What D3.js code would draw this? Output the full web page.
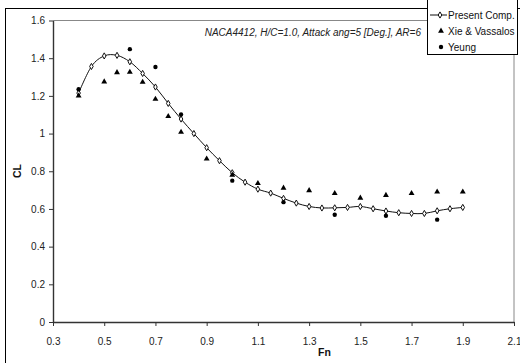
<!DOCTYPE html>
<html>
<head>
<meta charset="utf-8">
<script src="https://cdn.jsdelivr.net/npm/d3@7"></script>
<style>
  html, body { margin: 0; padding: 0; background: #fff; }
  svg { display: block; }
  svg text { font-family: "Liberation Sans", Arial, sans-serif; }
</style>
</head>
<body>
<svg id="chart" width="520" height="363"></svg>
<script>
// ---- data ----
const presentFn = [0.40, 0.45, 0.50, 0.55, 0.60, 0.65, 0.70, 0.75, 0.80, 0.85, 0.90, 0.95, 1.00, 1.05, 1.10, 1.15,
                   1.20, 1.25, 1.30, 1.35, 1.40, 1.45, 1.50, 1.55, 1.60, 1.65, 1.70, 1.75, 1.80, 1.85, 1.90];
const presentCL = [1.215, 1.356, 1.412, 1.415, 1.381, 1.319, 1.247, 1.160, 1.077, 1.000, 0.925, 0.856, 0.792, 0.742, 0.705, 0.684,
                   0.656, 0.631, 0.613, 0.605, 0.606, 0.608, 0.613, 0.601, 0.589, 0.580, 0.576, 0.576, 0.590, 0.601, 0.608];
const xieFn = [0.40, 0.50, 0.55, 0.60, 0.65, 0.70, 0.75, 0.80, 0.90, 1.00, 1.10, 1.20, 1.30, 1.40, 1.50, 1.60, 1.70, 1.80, 1.90];
const xieCL = [1.200, 1.275, 1.324, 1.326, 1.273, 1.183, 1.091, 1.008, 0.866, 0.780, 0.736, 0.711, 0.698, 0.683, 0.658, 0.673, 0.683, 0.691, 0.691];
const yeungFn = [0.40, 0.60, 0.70, 0.80, 1.00, 1.20, 1.40, 1.60, 1.80];
const yeungCL = [1.235, 1.448, 1.353, 1.101, 0.750, 0.636, 0.569, 0.564, 0.543];
const xTicks = [0.3, 0.5, 0.7, 0.9, 1.1, 1.3, 1.5, 1.7, 1.9, 2.1];
const yTicks = [0, 0.2, 0.4, 0.6, 0.8, 1.0, 1.2, 1.4, 1.6];
const seriesNames = ["Present Comp.", "Xie & Vassalos", "Yeung"];
const annotation = "NACA4412, H/C=1.0, Attack ang=5 [Deg.], AR=6";

// ---- layout ----
const FONT = "'Liberation Sans', Arial, sans-serif";
const svg = d3.select("#chart");
const L = 53, R = 514, T = 20.5, B = 322;
const x = d3.scaleLinear().domain([0.3, 2.1]).range([L, R]);
const y = d3.scaleLinear().domain([0, 1.6]).range([B, T]);

// outer chart frame
svg.append("rect").attr("x", 5.5).attr("y", 8.5).attr("width", 530).attr("height", 370)
  .attr("fill", "#fff").attr("stroke", "#000").attr("stroke-width", 1);

// plot area border (top/right gray)
svg.append("path")
  .attr("d", `M${L},${T}H${R}V${B}`)
  .attr("fill", "none").attr("stroke", "#888").attr("stroke-width", 1);

// axes
const xAxis = svg.append("g").attr("transform", `translate(0,${B})`)
  .call(d3.axisBottom(x).tickValues(xTicks).tickFormat(d3.format(".1f")).tickSizeInner(4).tickSizeOuter(0).tickPadding(12));
const yAxis = svg.append("g").attr("transform", `translate(${L},0)`)
  .call(d3.axisLeft(y).tickValues(yTicks).tickFormat(d => d === 0 ? "0" : (d === 1 ? "1" : d3.format(".1f")(d))).tickSizeInner(4).tickSizeOuter(0).tickPadding(4));
[xAxis, yAxis].forEach(g => {
  g.attr("font-family", FONT);
  g.select(".domain").attr("stroke", "#333").attr("stroke-width", 1.4);
  g.selectAll(".tick line").attr("stroke", "#333").attr("stroke-width", 1);
  g.selectAll(".tick text").attr("fill", "#222").attr("font-size", 10).attr("font-family", FONT);
});

// axis titles
svg.append("text").attr("x", 324.5).attr("y", 356).attr("text-anchor", "middle").attr("font-family", FONT)
  .attr("font-size", 10.5).attr("font-weight", "bold").attr("fill", "#111").text("Fn");
svg.append("text").attr("transform", "translate(21,171) rotate(-90)").attr("text-anchor", "middle").attr("font-family", FONT)
  .attr("font-size", 10.5).attr("font-weight", "bold").attr("fill", "#111").text("CL");

// annotation
svg.append("text").attr("x", 421).attr("y", 36).attr("text-anchor", "end").attr("font-family", FONT)
  .attr("font-size", 10).attr("font-style", "italic").attr("fill", "#222").text(annotation);

// present comp. line
const present = presentFn.map((f, i) => ({ f, c: presentCL[i] }));
const line = d3.line().x(d => x(d.f)).y(d => y(d.c)).curve(d3.curveCardinal.tension(0));
svg.append("path").datum(present).attr("d", line)
  .attr("fill", "none").attr("stroke", "#111").attr("stroke-width", 1);

const diamond = d3.symbol().type(d3.symbolDiamond).size(11);
const tri = d3.symbol().type(d3.symbolTriangle).size(15);
const circ = d3.symbol().type(d3.symbolCircle).size(15);

svg.append("g").selectAll("path").data(present).join("path")
  .attr("transform", d => `translate(${x(d.f)},${y(d.c)})`)
  .attr("d", diamond).attr("fill", "#fff").attr("stroke", "#111").attr("stroke-width", 1);

svg.append("g").selectAll("path").data(xieFn.map((f, i) => ({ f, c: xieCL[i] }))).join("path")
  .attr("transform", d => `translate(${x(d.f)},${y(d.c)})`)
  .attr("d", tri).attr("fill", "#000");

svg.append("g").selectAll("path").data(yeungFn.map((f, i) => ({ f, c: yeungCL[i] }))).join("path")
  .attr("transform", d => `translate(${x(d.f)},${y(d.c)})`)
  .attr("d", circ).attr("fill", "#000");

// legend
const lg = svg.append("g");
lg.append("rect").attr("x", 427.5).attr("y", -1).attr("width", 90).attr("height", 55.5)
  .attr("fill", "#fff").attr("stroke", "#000").attr("stroke-width", 1);
const rowsY = [15, 31, 47];
lg.append("line").attr("x1", 430).attr("x2", 447).attr("y1", rowsY[0]).attr("y2", rowsY[0])
  .attr("stroke", "#111").attr("stroke-width", 1);
lg.append("path").attr("transform", `translate(440,${rowsY[0]})`).attr("d", diamond)
  .attr("fill", "#fff").attr("stroke", "#111");
lg.append("path").attr("transform", `translate(441,${rowsY[1]})`).attr("d", tri).attr("fill", "#000");
lg.append("path").attr("transform", `translate(441,${rowsY[2]})`).attr("d", circ).attr("fill", "#000");
lg.selectAll("text.lt").data(seriesNames).join("text").attr("class", "lt").attr("font-family", FONT)
  .attr("x", 448).attr("y", (d, i) => rowsY[i] + 4).attr("font-size", 10).attr("fill", "#111").text(d => d);
</script>
</body>
</html>
